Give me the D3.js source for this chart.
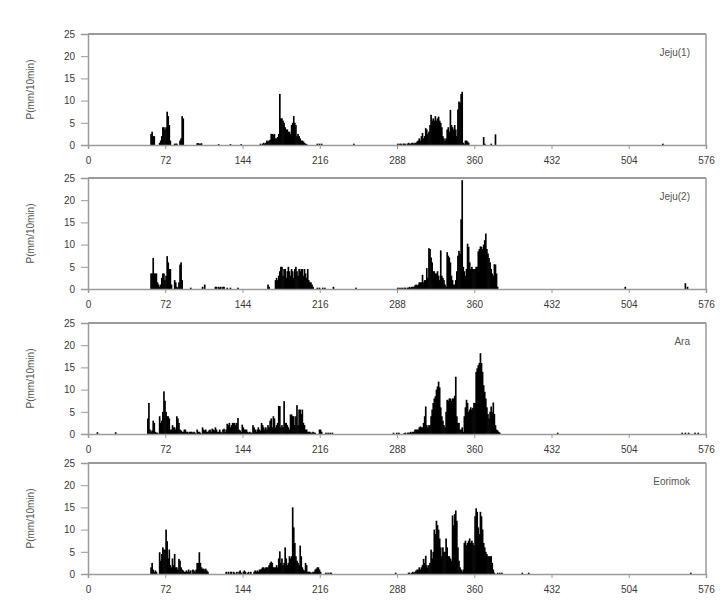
<!DOCTYPE html>
<html><head><meta charset="utf-8">
<script src="https://cdn.jsdelivr.net/npm/d3@7"></script>
<style>
html,body{margin:0;padding:0;background:#fff;}
svg{display:block;}
text{font-family:"Liberation Sans",Arial,sans-serif;}
</style></head>
<body>
<svg id="chart" width="723" height="601"></svg>
<script>
// ---------- DATA (10-min precipitation, mm/10min) ----------
// each run: [start time step, [consecutive values...]]
const stations = ["Jeju(1)", "Jeju(2)", "Ara", "Eorimok"];
const xTicks = [0, 72, 144, 216, 288, 360, 432, 504, 576];
const yTicks = [0, 5, 10, 15, 20, 25];
const yTitle = "P(mm/10min)";

const jeju1Runs = [
  [58, [2.5, 3, 2, 2]],
  [66, [0.5, 1, 2, 4, 4, 3.5, 4, 7.5, 6.5, 4.5, 1]],
  [80, [0.3, 0.3, 0.3]],
  [85, [1, 1.5, 6.5, 6]],
  [101, [0.4, 0.4, 0.3, 0.3, 0.4]],
  [121, [0.2]], [132, [0.2]], [142, [0.2]],
  [160, [0.3, 0, 0.3, 0.5, 0.3, 0.5, 1, 0.8, 1, 1.2]],
  [170, [2.5, 2.5, 2.3, 2.5, 1.5, 1.5, 1.8, 2.5, 11.5, 6, 6, 5.5, 5, 4, 3.5, 3.5, 3, 3, 2.5, 4.5,
         5, 6.5, 5, 4.5, 2, 2.5, 2, 1.5, 1, 1, 0.8, 0.5, 0.3, 0.2]],
  [213, [0.3, 0, 0.3, 0, 0.3]], [247, [0.3]],
  [288, [0.3, 0, 0.3, 0.3, 0, 0.3, 0.3, 0.3, 0, 0.3, 0.5, 0.3, 0.3, 0.5, 0.5, 0.3, 0.5, 0.5, 0.8]],
  [307, [1, 1.5, 1, 2, 2.7, 1.5, 2, 3.8, 3.5, 2.5, 3, 4.5, 6.8, 5.5, 6, 5.5, 6.5, 5.5, 6, 6.4,
         5.5, 5, 4, 2, 1.5, 1, 1.5, 3.5, 4, 3, 7.9, 4.5, 4, 3.5, 4.5, 3.5, 2, 8, 9.8, 9.5,
         11.5, 12, 0.5, 0.3, 1, 1, 0.8, 0.5]],
  [368, [1.8, 0.3]], [375, [0.3]], [379, [2.4]], [535, [0.3]]
];

const jeju2Runs = [
  [58, [3.5, 3.5, 7, 3.5, 3.5, 3.5, 1.5, 1, 0.5, 1, 2.5, 3.5, 3.5, 2, 3, 7.4, 6, 4.5, 4.5, 1]],
  [80, [2, 1.5, 0.5, 0.3, 1.5, 5.5, 6, 2]],
  [95, [0.3]], [106, [0.5, 0, 1]],
  [118, [0.5, 0.5, 0, 0.5, 0.3, 0.5, 0, 0.5, 0.5]],
  [129, [0.3]], [132, [0.3]], [139, [0.3]],
  [167, [1, 0.5]],
  [174, [2, 2.5, 2, 3, 4, 5, 5, 3, 4.5, 4.5, 2.5, 4, 5, 4, 3, 4.5, 4, 2.5, 4.5, 5,
         4, 3, 4.5, 4, 4.5, 4.5, 3, 4.5, 3.5, 2.5, 4.5, 2, 1.5, 1.5, 1, 0.5]],
  [213, [0.3, 0, 0.3, 0, 0, 0.3, 0, 0.3]], [228, [0.5]], [249, [0.3]],
  [288, [0.3, 0, 0.3, 0, 0.3, 0, 0.3, 0.3, 0, 0.3, 0.3, 0.5, 0.3, 0.5, 0.5]],
  [303, [0.5, 0.8, 1, 0.8, 1, 1.5, 1.5, 1.5, 3.2, 1.5, 2, 2, 4.7, 2.5, 9.2, 9, 7.1, 6, 4, 4,
         3.5, 3.5, 4, 3, 2, 8.7, 3, 2.5, 2, 1, 0.5, 8.3, 7.5, 7.1, 6, 3, 2, 1, 1, 2,
         4, 7.5, 8.6, 8, 15.7, 24.5, 5, 4, 3, 4.5, 10.2, 9.5, 6, 4.5, 5, 4.5, 4.5, 4.5, 5, 5,
         8.5, 9, 9.6, 9.5, 9, 10, 11, 12.5, 9, 8, 7, 6, 4.5, 3.5, 3, 5.6, 5.5, 3.5, 0.5]],
  [500, [0.5]], [556, [1.3, 0, 0.5]]
];

const araRuns = [
  [8, [0.4]], [25, [0.4]],
  [55, [3.5, 7, 1, 0.5, 0.8, 3, 2.5, 0.5, 0.3, 0.3, 0, 4, 2.5, 3, 5, 9.6, 7.5, 5, 4, 4,
        3.5, 1, 1, 2, 1.5, 1.5, 1, 4, 3.5, 2.5, 1, 0.8, 0.5, 0.5, 1, 1, 0.5, 0.5, 0.3, 0.5,
        0.5, 0.5, 0.3, 0.5, 0.3, 0, 1, 0.5, 0.5, 0.3, 0, 1.5, 1, 0.8, 1, 0.5, 0.5, 0.8, 1, 0.5,
        1.2, 1, 0.8, 1.5, 1, 0.5, 0.5, 1, 0.5, 0.3, 1, 1.2, 0.5, 1, 2.3, 2, 2.5, 1.5, 2, 2.5,
        2.5, 2.5, 2, 2.5, 3.6, 1, 0.8, 0.5, 2.1, 1.5, 1, 1, 1, 0.5, 0.3, 0.5, 0.3, 0.3, 2, 1.5,
        1, 0.5, 1, 1.5, 1, 0.8, 2.5, 2, 1.5, 1, 1.5, 1, 2, 1.5, 3, 3.5, 1.5, 4, 3.5, 1.5,
        2, 2.5, 6.3, 6.3, 1.5, 2, 1.5, 7.4, 2.5, 2.5, 2, 1.5, 1, 4.4, 4.4, 4, 4, 2, 4, 6.5,
        2, 5.5, 5.5, 4.5, 5.5, 2.5, 2, 1, 1, 0.5, 0.5, 0.5, 0.3, 0.3, 0.5, 0.3, 0.3, 0, 0, 0,
        1, 1, 0.5]],
  [221, [0.3, 0, 0.3, 0, 0.3, 0, 0.3]],
  [284, [0.3, 0, 0, 0.3, 0, 0.3]],
  [294, [0.2, 0.3, 0, 0.3, 0.3, 0.3, 0.5, 0.3, 0.5, 0.5, 1, 1, 1, 1, 1.5, 1.7, 1.5, 1.5, 2.5, 4,
         6.2, 2, 1.5, 2, 2, 4, 5.5, 7, 8, 8.5, 10, 10.7, 11.8, 10.5, 6, 4, 3, 2, 1.5, 5,
         7.7, 7.5, 8, 8, 7.5, 8, 8, 8.6, 12.9, 4, 2.5, 2.5, 1, 1, 1.5, 0.5, 4, 6, 7.7, 7,
         5, 5.5, 6, 5.5, 5.9, 7, 7, 14, 14.8, 15.5, 16, 18.2, 16, 14, 11, 9.5, 8, 6, 4.5, 3.5,
         5, 6.2, 5, 7.1, 4.5, 2, 1, 0.8, 0.5, 0.3]],
  [437, [0.3]], [553, [0.3]], [556, [0.3]], [559, [0.3]], [565, [0.3]], [568, [0.3]]
];

const eorimokRuns = [
  [58, [1.5, 2.5, 1, 0.5, 0.8, 0.5, 0, 0, 4.9, 3, 4.5, 6, 5.5, 5.5, 10, 7.4, 3.5, 5.5, 2, 1.5,
        3.5, 2, 4.5, 1.5, 1.5, 1, 3.4, 3, 1.5, 1, 0.8, 0.5, 0.5, 0.8, 0.5, 1, 0.5, 0.8, 0, 1,
        0.8, 0.5, 1, 2.5, 2.5, 4.9, 2.5, 1.5, 1.2, 1.2, 1, 1.2, 0.8, 0.5]],
  [128, [0.5, 0, 0.5, 0, 0.5, 0.5, 0, 0.5, 0.3, 0, 0.5]],
  [140, [0.5, 0.8, 0.3, 0, 0.5, 0.8, 0.5, 0, 0.3, 0.5, 0, 0.5]],
  [154, [0.5, 0.8, 0.5, 0.8, 0.5, 1, 1, 1.2, 1.5, 1.5, 1.2, 1.5, 1.5, 1.5, 2, 2.5, 2.8, 2.5, 1.5, 1.5,
         1.5, 2, 1.5, 3.5, 5.1, 2.5, 3.5, 2, 2.5, 6, 3.5, 2, 2.5, 4, 3.5, 4, 15, 10.5, 7, 4,
         3, 2.5, 2, 6.4, 4, 1.5, 1, 0.8, 2.5, 2, 0.5, 0.5, 0.5, 0.3, 0.3, 0.5, 0.5, 1, 1.2, 1.5,
         1.5, 1, 0.5]],
  [221, [0.3, 0, 0.3, 0, 0.3, 0.3]],
  [286, [0.3]],
  [298, [0.3, 0.3, 0, 0.3, 0.5, 0.3, 0.5, 0.8, 1, 1, 1.5, 1, 1.5, 2, 3.4, 2.5, 4.1, 2, 1.5, 2,
         2.5, 5.5, 3.5, 5, 10, 9, 12, 11, 10, 8, 6, 4, 6, 5, 5, 8, 6, 4, 4, 3.5,
         3, 13.2, 11, 13.5, 14.3, 12, 6, 3, 1.5, 1, 0.5, 1, 7, 7.5, 6.5, 7, 7.5, 8, 7, 7.5,
         7, 6.5, 13, 14.8, 14, 10.5, 9, 14, 13, 10, 7, 6, 5, 4.5, 4, 4, 4, 4, 2.5, 1,
         0.3]],
  [381, [0.3, 0, 0.3, 0, 0.3]], [404, [0.3]], [410, [0.3]], [561, [0.3]]
];

const allRuns = [jeju1Runs, jeju2Runs, araRuns, eorimokRuns];

// ---------- LAYOUT ----------
const panelTops = [34, 178, 323, 463];
const panelH = 111;
const left = 88, right = 706;
const axisColor = "#9a9a9a";
const textColor = "#3a3a3a";

const svg = d3.select("#chart");
const x = d3.scaleLinear().domain([0, 576]).range([left, right]);
const step = x(1) - x(0);

function flatten(runs) {
  const pts = [];
  runs.forEach(([s, vals]) => vals.forEach((v, i) => { if (v > 0) pts.push({t: s + i, v}); }));
  return pts;
}

stations.forEach((name, k) => {
  const top = panelTops[k];
  const y = d3.scaleLinear().domain([0, 25]).range([top + panelH, top]);
  const g = svg.append("g");

  // frame (top + right)
  g.append("line").attr("x1", left).attr("x2", right).attr("y1", top).attr("y2", top)
    .attr("stroke", axisColor).attr("stroke-width", 2);
  g.append("line").attr("x1", right).attr("x2", right).attr("y1", top).attr("y2", top + panelH)
    .attr("stroke", axisColor).attr("stroke-width", 1.5);

  // bars
  g.append("g").selectAll("rect").data(flatten(allRuns[k])).join("rect")
    .attr("x", d => x(d.t))
    .attr("width", step + 0.6)
    .attr("y", d => y(d.v))
    .attr("height", d => y(0) - y(d.v))
    .attr("fill", "#000");

  // axes
  const ya = g.append("g").attr("transform", `translate(${left},0)`)
    .call(d3.axisLeft(y).tickValues(yTicks).tickSize(7).tickPadding(6));
  const xa = g.append("g").attr("transform", `translate(0,${top + panelH})`)
    .call(d3.axisBottom(x).tickValues(xTicks).tickSize(4).tickPadding(8));
  [ya, xa].forEach(a => {
    a.select(".domain").attr("stroke", axisColor).attr("stroke-width", 1.5);
    a.selectAll(".tick line").attr("stroke", axisColor).attr("stroke-width", 1);
    a.selectAll("text").attr("fill", textColor).style("font-size", "10px")
      .style("font-family", "'Liberation Sans', Arial, sans-serif");
  });

  // y title
  g.append("text")
    .attr("transform", `translate(34,${top + panelH / 2}) rotate(-90)`)
    .attr("text-anchor", "middle")
    .attr("fill", "#555").style("font-size", "10px")
    .text(yTitle);

  // station label
  g.append("text")
    .attr("x", 690).attr("y", top + 22)
    .attr("text-anchor", "end")
    .attr("fill", "#555").style("font-size", "10px")
    .text(name);
});
</script>
</body></html>
